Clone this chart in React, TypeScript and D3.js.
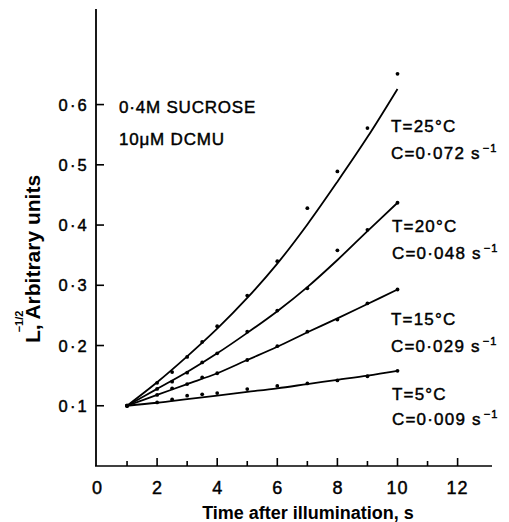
import React from "react";
import * as d3 from "d3";

// ---- data ----
const pointTimes = [1, 2, 2.5, 3, 3.5, 4, 5, 6, 7, 8, 9, 10];
const points25 = [0.1, 0.138, 0.156, 0.181, 0.206, 0.232, 0.283, 0.34, 0.428, 0.489, 0.561, 0.651];
const points20 = [0.1, 0.128, 0.14, 0.155, 0.172, 0.187, 0.223, 0.258, 0.295, 0.358, 0.392, 0.437];
const points15 = [0.1, 0.118, 0.129, 0.136, 0.147, 0.154, 0.176, 0.199, 0.223, 0.243, 0.27, 0.293];
const points5 = [0.1, 0.1056, 0.1106, 0.1167, 0.119, 0.121, 0.1277, 0.133, 0.137, 0.142, 0.149, 0.158];

const fitTimes = [1, 2, 3, 4, 5, 6, 7, 8, 9, 10];
const fit25 = [0.1, 0.139, 0.182, 0.228, 0.279, 0.336, 0.401, 0.472, 0.546, 0.626];
const fit20 = [0.1, 0.128, 0.156, 0.187, 0.221, 0.257, 0.297, 0.342, 0.39, 0.437];
const fit15 = [0.1, 0.118, 0.136, 0.154, 0.176, 0.198, 0.222, 0.245, 0.269, 0.293];
const fit5 = [0.1, 0.105, 0.111, 0.117, 0.123, 0.129, 0.136, 0.143, 0.15, 0.158];

const seriesTemps = ["T=25°C", "T=20°C", "T=15°C", "T=5°C"];
const seriesRates = ["C=0·072 s", "C=0·048 s", "C=0·029 s", "C=0·009 s"];

const xTickValues = [1, 2, 3, 4, 5, 6, 7, 8, 9, 10, 11, 12];
const xTickLabels = [0, 2, 4, 6, 8, 10, 12];
const yTickValues = [0.1, 0.2, 0.3, 0.4, 0.5, 0.6];
const yTickLabels = ["0·1", "0·2", "0·3", "0·4", "0·5", "0·6"];

const W = 509;
const H = 522;

export default function App() {
  const x = d3.scaleLinear().domain([0, 13.15]).range([97, 97 + 13.15 * 30.05]);
  const y = d3.scaleLinear().domain([0, 0.757]).range([466, 10]);
  const line = d3
    .line<[number, number]>()
    .x((d) => x(d[0]))
    .y((d) => y(d[1]))
    .curve(d3.curveCatmullRom.alpha(0.5));

  const fits = [fit25, fit20, fit15, fit5];
  const pts = [points25, points20, points15, points5];
  const labelY = [
    [132, 159],
    [232, 259],
    [325, 352],
    [400, 425],
  ];
  const labelX = [391, 392, 391, 392];
  const font = "'Liberation Sans', Arial, sans-serif";
  const heavy = { stroke: "#000", strokeWidth: 0.45 };

  return (
    <svg
      width={W}
      height={H}
      style={{ position: "absolute", left: 0, top: 0, background: "#fff" }}
      fontFamily={font}
    >
      <rect width={W} height={H} fill="#fff" />
      {/* axes */}
      <line x1={96} y1={9} x2={96} y2={466} stroke="#000" strokeWidth={1.8} />
      <line x1={95} y1={466} x2={492} y2={466} stroke="#000" strokeWidth={1.6} />
      {yTickValues.map((v, i) => (
        <g key={"yt" + i}>
          <line x1={96} x2={104} y1={y(v)} y2={y(v)} stroke="#000" strokeWidth={1.6} />
          <text x={89} y={y(v) + 6} fontSize={16.5} textAnchor="end" letterSpacing={2.2} {...heavy}>
            {yTickLabels[i]}
          </text>
        </g>
      ))}
      {xTickValues.map((v) => (
        <line
          key={"xt" + v}
          x1={x(v)}
          x2={x(v)}
          y1={466}
          y2={v % 2 === 0 ? 458 : 461}
          stroke="#000"
          strokeWidth={1.6}
        />
      ))}
      {xTickLabels.map((v) => (
        <text key={"xl" + v} x={x(v)} y={494} fontSize={18} textAnchor="middle" letterSpacing={v >= 10 ? 1 : 0} {...heavy}>
          {v}
        </text>
      ))}
      <text x={308} y={519} fontSize={18} fontWeight="bold" textAnchor="middle">
        Time after illumination, s
      </text>
      {/* y axis title */}
      <text transform="translate(40,343) rotate(-90)" fontSize={21} fontWeight="bold">
        <tspan>L,</tspan>
        <tspan dx={-8} dy={-17} fontSize={11}>−1/2</tspan>
        <tspan dx={-9} dy={17}>Arbitrary units</tspan>
      </text>

      {/* fitted curves */}
      {fits.map((f, i) => (
        <path
          key={"f" + i}
          d={line(fitTimes.map((t, j) => [t, f[j]] as [number, number])) || ""}
          fill="none"
          stroke="#000"
          strokeWidth={1.8}
        />
      ))}
      {/* observed points */}
      {pts.map((p, i) =>
        p.map((v, j) => (
          <circle key={"p" + i + "-" + j} cx={x(pointTimes[j])} cy={y(v)} r={1.9} fill="#000" />
        ))
      )}

      {/* annotations */}
      <text x={119} y={112.5} fontSize={17} letterSpacing={0.8} {...heavy}>
        0·4M  SUCROSE
      </text>
      <text x={119} y={145} fontSize={17} letterSpacing={0.8} {...heavy}>
        10μM  DCMU
      </text>
      {seriesTemps.map((t, i) => (
        <g key={"lab" + i}>
          <text x={labelX[i]} y={labelY[i][0]} fontSize={17} letterSpacing={1.2} {...heavy}>
            {t}
          </text>
          <text x={labelX[i]} y={labelY[i][1]} fontSize={17} letterSpacing={1.2} {...heavy}>
            {seriesRates[i]}
            <tspan dx={2} dy={-7} fontSize={11}>−1</tspan>
          </text>
        </g>
      ))}
    </svg>
  );
}
